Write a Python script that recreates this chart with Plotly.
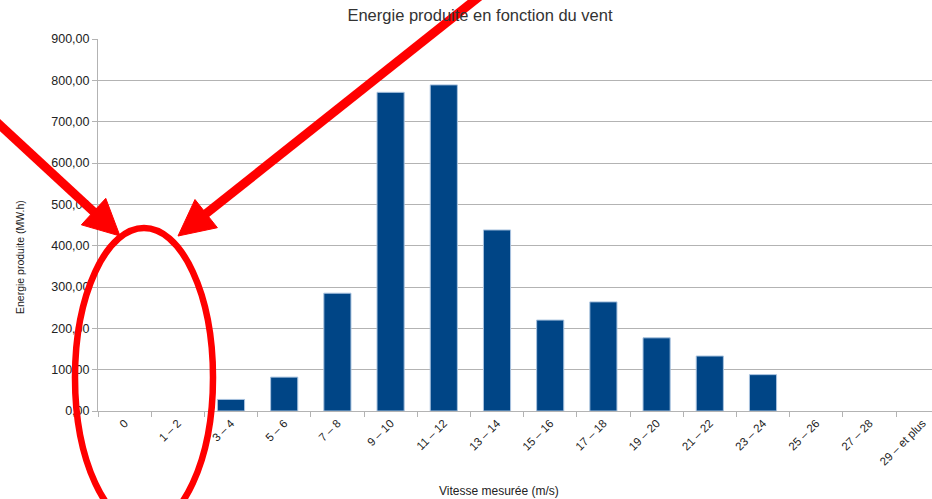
import plotly.graph_objects as go

# Wind speed classes (m/s) and energy produced in each class (MW.h)
categories = ["0", "1 – 2", "3 – 4", "5 – 6", "7 – 8", "9 – 10", "11 – 12",
              "13 – 14", "15 – 16", "17 – 18", "19 – 20", "21 – 22",
              "23 – 24", "25 – 26", "27 – 28", "29 – et plus"]
energie = [0, 0, 28, 82, 285, 771, 789, 438, 220, 264, 177, 133, 88, 0, 0, 0]
y_ticks = [0, 100, 200, 300, 400, 500, 600, 700, 800, 900]

W, H = 932, 499
ML, MR, MT, MB = 98, 0, 39, 88
PW, PH = W - ML - MR, H - MT - MB
FONT = "Liberation Sans, Arial, sans-serif"
GRID = "#b3b3b3"
RED = "#ff0000"


def to_paper(X, Y):
    """Convert a pixel position of the page into paper coordinates."""
    return (X - ML) / PW, (H - MB - Y) / PH


def arrow(start, tip, head_len=36, head_half=18, width=9):
    """Thick red arrow: a line plus a filled triangular head."""
    sx, sy = start
    tx, ty = tip
    dx, dy = tx - sx, ty - sy
    n = (dx * dx + dy * dy) ** 0.5
    ux, uy = dx / n, dy / n
    bx, by = tx - head_len * ux, ty - head_len * uy
    px_, py_ = -uy, ux
    c1 = (bx + head_half * px_, by + head_half * py_)
    c2 = (bx - head_half * px_, by - head_half * py_)
    x0, y0 = to_paper(sx, sy)
    x1, y1 = to_paper(bx + 2 * ux, by + 2 * uy)
    pts = [to_paper(*p) for p in (tip, c1, c2)]
    path = "M {} {} L {} {} L {} {} Z".format(*[v for p in pts for v in p])
    return [
        dict(type="line", xref="paper", yref="paper", x0=x0, y0=y0, x1=x1, y1=y1,
             line=dict(color=RED, width=width)),
        dict(type="path", xref="paper", yref="paper", path=path,
             fillcolor=RED, line=dict(color=RED, width=1)),
    ]


# empty classes get no outline, so nothing shows on the baseline
outline_w = [1 if v > 0 else 0 for v in energie]

fig = go.Figure(
    go.Bar(
        x=categories,
        y=energie,
        marker=dict(color="#004586", line=dict(color="#a9c3df", width=outline_w)),
        hoverinfo="x+y",
    )
)

shapes = []
ex0, ey0 = to_paper(75, 527)
ex1, ey1 = to_paper(213, 228)
shapes.append(dict(type="circle", xref="paper", yref="paper",
                   x0=ex0, y0=ey0, x1=ex1, y1=ey1,
                   line=dict(color=RED, width=6.5)))
shapes += arrow((-10, 116), (120, 236))
shapes += arrow((480, -4), (178, 236))

yx, yy = to_paper(20, 257)
xx, xy = to_paper(499, 491)

fig.update_layout(
    width=W, height=H,
    margin=dict(l=ML, r=MR, t=MT, b=MB, pad=0),
    paper_bgcolor="white", plot_bgcolor="white",
    font=dict(family=FONT, color="#222222"),
    separators=", ",
    showlegend=False,
    bargap=0.49,
    title=dict(text="Energie produite en fonction du vent",
               font=dict(size=16.5, color="#333333", family=FONT),
               xref="container", yref="container",
               x=480 / W, y=1 - 15 / H, xanchor="center", yanchor="middle"),
    xaxis=dict(
        type="category",
        range=[-0.5, -0.5 + PW / 53.2],
        tickson="boundaries",
        ticks="outside", ticklen=5, tickcolor=GRID, tickwidth=1,
        showline=True, linecolor=GRID, linewidth=1,
        showgrid=False, zeroline=False,
        tickangle=-45,
        tickfont=dict(size=11.5, color="#222222", family=FONT),
    ),
    yaxis=dict(
        range=[0, 900],
        tickvals=y_ticks,
        tickformat=".2f",
        ticks="outside", ticklen=5, tickcolor=GRID, tickwidth=1,
        showline=True, linecolor=GRID, linewidth=1,
        showgrid=True, gridcolor=GRID, gridwidth=1,
        zeroline=False,
        tickfont=dict(size=12.5, color="#222222", family=FONT),
    ),
    annotations=[
        dict(text="Energie produite (MW.h)", xref="paper", yref="paper",
             x=yx, y=yy, textangle=-90, showarrow=False,
             xanchor="center", yanchor="middle",
             font=dict(size=10.5, color="#222222", family=FONT)),
        dict(text="Vitesse mesurée (m/s)", xref="paper", yref="paper",
             x=xx, y=xy, showarrow=False,
             xanchor="center", yanchor="middle",
             font=dict(size=12, color="#222222", family=FONT)),
    ],
    shapes=shapes,
)

fig.write_html("out.html")
